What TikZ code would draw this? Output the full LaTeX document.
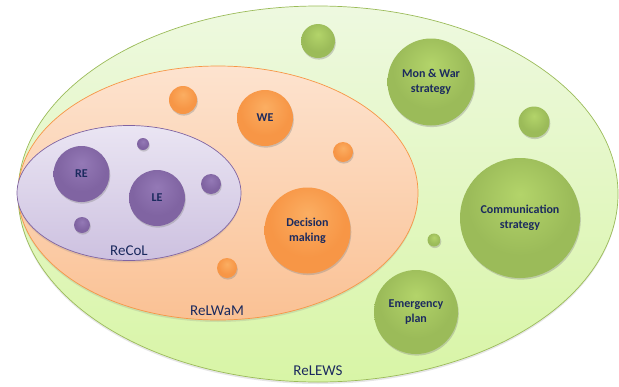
\documentclass[tikz,border=0pt]{standalone}
\usepackage{fontspec}
\setmainfont{Carlito}
\usetikzlibrary{shapes.geometric,shadows}

% palette
\definecolor{navy}{HTML}{1B2A5E}
\definecolor{grnhi}{HTML}{B3D46A}
\definecolor{grnmid}{HTML}{9BBB59}
\definecolor{grnlo}{HTML}{6F8E35}
\definecolor{orghi}{HTML}{FBAE62}
\definecolor{orgmid}{HTML}{F79646}
\definecolor{orglo}{HTML}{D9741E}
\definecolor{purhi}{HTML}{9479B6}
\definecolor{purmid}{HTML}{8064A2}
\definecolor{purlo}{HTML}{5F4586}
\definecolor{zgtop}{HTML}{EEF9E0}
\definecolor{zgbot}{HTML}{D8F5A6}
\definecolor{zotop}{HTML}{FDE3CF}
\definecolor{zobot}{HTML}{FAC194}
\definecolor{zptop}{HTML}{EAE5F3}
\definecolor{zpbot}{HTML}{CDC1E0}

% glossy balls: light centre slightly above the middle, darker rim
\pgfdeclareradialshading{ballgreen}{\pgfpoint{0bp}{10bp}}{%
  color(0bp)=(grnhi); color(22bp)=(grnmid); color(44bp)=(grnmid); color(62bp)=(grnlo)}
\pgfdeclareradialshading{ballorange}{\pgfpoint{0bp}{10bp}}{%
  color(0bp)=(orghi); color(22bp)=(orgmid); color(44bp)=(orgmid); color(62bp)=(orglo)}
\pgfdeclareradialshading{ballpurple}{\pgfpoint{0bp}{10bp}}{%
  color(0bp)=(purhi); color(22bp)=(purmid); color(44bp)=(purmid); color(62bp)=(purlo)}

\tikzset{
  ball/.style={circle, inner sep=0pt, align=center, text=navy,
    font=\bfseries\fontsize{12}{15}\selectfont,
    drop shadow={opacity=0.35, shadow xshift=0.8pt, shadow yshift=-1.6pt}},
  gball/.style={ball, shading=ballgreen},
  oball/.style={ball, shading=ballorange},
  pball/.style={ball, shading=ballpurple},
  zone/.style={ellipse, inner sep=0pt, line width=0.7pt,
    drop shadow={opacity=0.2, shadow xshift=0pt, shadow yshift=-2pt}},
  zonelabel/.style={anchor=base, text=navy, font=\fontsize{15}{18}\selectfont},
}

\begin{document}
\begin{tikzpicture}[x=1pt, y=-1pt]
  \useasboundingbox (0,0) rectangle (619,386);

  % nested zones
  \node[zone, draw=grnmid, top color=zgtop, bottom color=zgbot,
        minimum width=600pt, minimum height=376pt] (relews) at (318,194) {};
  \node[zone, draw=orgmid, top color=zotop, bottom color=zobot,
        minimum width=400pt, minimum height=254pt] (relwam) at (218,193) {};
  \node[zone, draw=purmid, top color=zptop, bottom color=zpbot,
        minimum width=224pt, minimum height=135pt] (recol) at (129,193) {};

  \node[zonelabel] (lrecol)  at (129,255) {ReCoL};
  \node[zonelabel] (lrelwam) at (217,315) {ReLWaM};
  \node[zonelabel] (lrelews) at (318,375) {ReLEWS};

  % green balls
  \node[gball, minimum size=34pt]  (g1)     at (318,41)  {};
  \node[gball, minimum size=87pt]  (monwar) at (431,82)  {Mon \& War\\strategy};
  \node[gball, minimum size=31pt]  (g2)     at (534,122) {};
  \node[gball, minimum size=120pt] (comm)   at (520,218) {Communication\\strategy};
  \node[gball, minimum size=13pt]  (g3)     at (434,240) {};
  \node[gball, minimum size=84pt]  (emerg)  at (416,312) {Emergency\\plan};

  % orange balls
  \node[oball, minimum size=28pt] (o1)  at (183,100)   {};
  \node[oball, minimum size=56pt] (we)  at (265,118)   {WE};
  \node[oball, minimum size=20pt] (o2)  at (343,152)   {};
  \node[oball, minimum size=86pt] (dec) at (307.5,230.5) {Decision\\making};
  \node[oball, minimum size=20pt] (o3)  at (227,268)   {};

  % purple balls
  \node[pball, minimum size=56pt] (re) at (81.5,174) {RE};
  \node[pball, minimum size=56pt] (le) at (157,198)  {LE};
  \node[pball, minimum size=12pt] (p1) at (143,144)  {};
  \node[pball, minimum size=20pt] (p2) at (211,184)  {};
  \node[pball, minimum size=16pt] (p3) at (82,225)   {};
\end{tikzpicture}
\end{document}
